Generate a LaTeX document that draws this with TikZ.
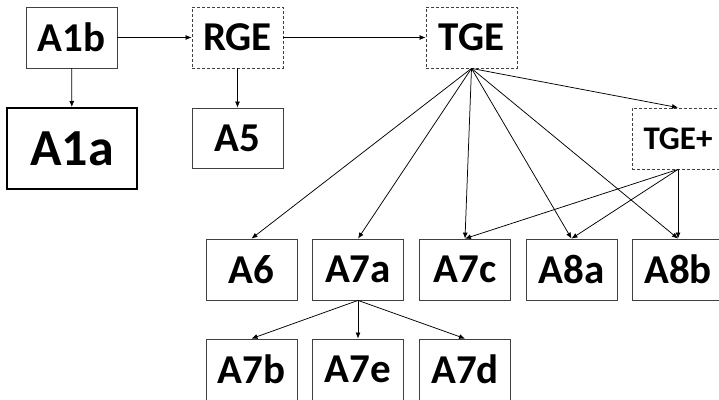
\documentclass[tikz,border=0pt]{standalone}
\usepackage{fontspec}
\setmainfont{Carlito}
\usetikzlibrary{arrows.meta}
\begin{document}
\begin{tikzpicture}[x=1pt,y=-1pt,
    box/.style={draw=black!75,line width=0.8pt,minimum width=91pt,minimum height=61pt,inner sep=0pt,
        font=\fontsize{41}{41}\selectfont\bfseries},
    dbox/.style={box,dashed,dash pattern=on 3pt off 2pt},
    link/.style={line width=0.75pt,-{Latex[length=6pt,width=5pt]}}]
        \useasboundingbox (0,0) rectangle (719,399);
        \node[box] (a1b) at (71.5,37.5) {A1b};
        \node[box,line width=2pt,draw=black,minimum width=130pt,minimum height=81pt,
            font=\fontsize{52}{52}\selectfont\bfseries] (a1a) at (72,148.5) {A1a};
        \node[dbox] (rge) at (237.5,37.5) {RGE};
        \node[box,minimum height=60pt] (a5) at (237.5,138) {A5};
        \node[dbox] (tge) at (471.5,37.5) {TGE};
        \node[dbox,minimum width=92pt,font=\fontsize{33}{33}\selectfont\bfseries] (tgep) at (678,138.5) {TGE+};
        
        \node[box] (a6) at (251.5,269.5) {A6};
        \node[box] (a7a) at (358,269.5) {A7a};
        \node[box] (a7c) at (465,269.5) {A7c};
        \node[box] (a8a) at (571.5,269.5) {A8a};
        \node[box] (a8b) at (678,269.5) {A8b};
        
        \node[box] (a7b) at (251.5,369.5) {A7b};
        \node[box] (a7e) at (358,369.5) {A7e};
        \node[box] (a7d) at (465,369.5) {A7d};
        
        \draw[link] (a1b) -- (a1a);
        \draw[link] (a1b) -- (rge);
        \draw[link] (rge) -- (a5);
        \draw[link] (rge) -- (tge);
        
        \foreach \t in {a6,a7a,a7c,a8a,a8b,tgep}
            \draw[link] (tge.south) -- (\t.north);
        \foreach \t in {a7c,a8a,a8b}
            \draw[link] (tgep.south) -- (\t.north);
        \foreach \t in {a7b,a7e,a7d}
            \draw[link] (a7a.south) -- (\t.north);
\end{tikzpicture}
\end{document}
